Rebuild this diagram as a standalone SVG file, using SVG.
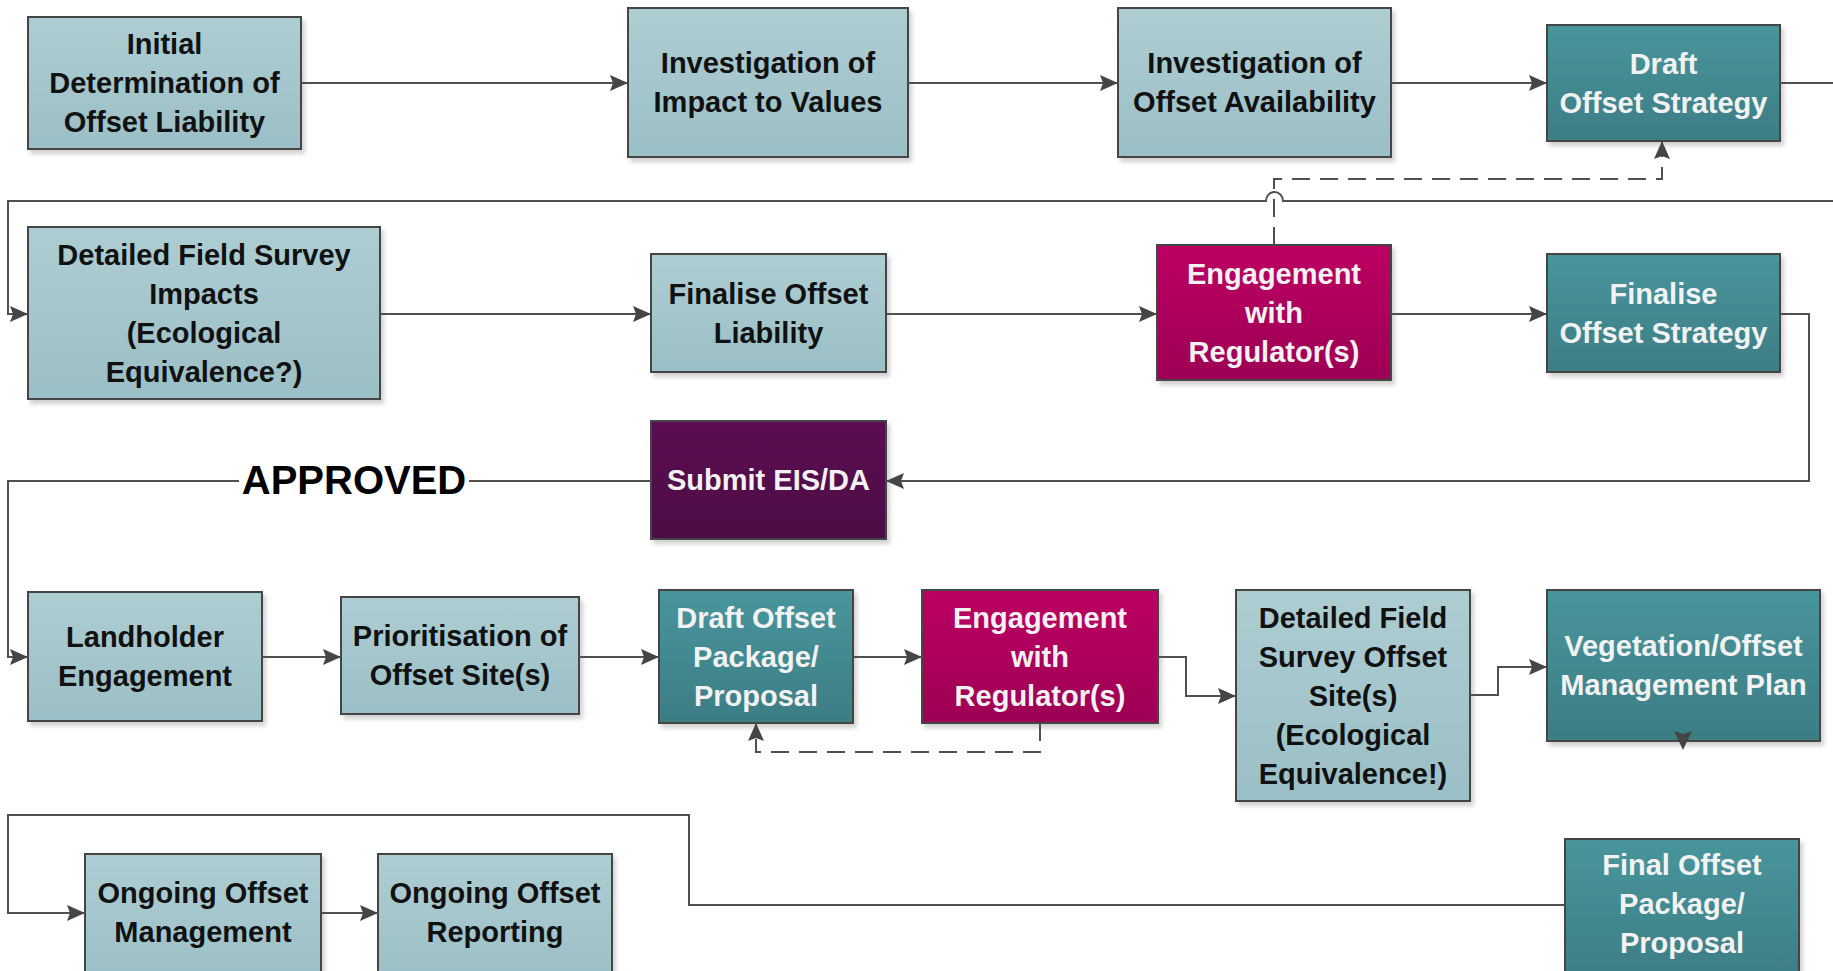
<svg xmlns="http://www.w3.org/2000/svg" width="1833" height="971" viewBox="0 0 1833 971">
<defs>
<linearGradient id="gLight" x1="0" y1="0" x2="0" y2="1"><stop offset="0" stop-color="#adcdd2"/><stop offset="1" stop-color="#9bbfc6"/></linearGradient>
<linearGradient id="gTeal" x1="0" y1="0" x2="0" y2="1"><stop offset="0" stop-color="#48959c"/><stop offset="1" stop-color="#3d7d84"/></linearGradient>
<linearGradient id="gMag" x1="0" y1="0" x2="0" y2="1"><stop offset="0" stop-color="#bc0063"/><stop offset="1" stop-color="#9d0054"/></linearGradient>
<linearGradient id="gPurp" x1="0" y1="0" x2="0" y2="1"><stop offset="0" stop-color="#5b0f53"/><stop offset="1" stop-color="#4c0b45"/></linearGradient>
<filter id="sh" x="-10%" y="-10%" width="125%" height="130%"><feDropShadow dx="3" dy="4" stdDeviation="2" flood-color="#000" flood-opacity="0.18"/></filter>
<marker id="arr" markerUnits="userSpaceOnUse" markerWidth="18" markerHeight="16" refX="18" refY="8" orient="auto"><path d="M0,0 L18,8 L0,16 L3,8 z" fill="#454545"/></marker>
</defs>
<style>
.box{stroke:#444;stroke-width:2;filter:url(#sh)}
.light{fill:url(#gLight)}
.teal{fill:url(#gTeal)}
.mag{fill:url(#gMag)}
.purp{fill:url(#gPurp)}
text{font-family:"Liberation Sans",Arial,sans-serif;font-weight:bold;font-size:29px;text-anchor:middle}
.dk{fill:#111}
.wt{fill:#f2f2f2}
.ln{fill:none;stroke:#505050;stroke-width:2}
.a{marker-end:url(#arr)}
.dash{stroke-dasharray:18 10}
.lbl{font-size:40px;fill:#000}
</style>

<g id="n1"><rect class="box light" x="28" y="17" width="273" height="132"/>
<text class="dk" x="164.5" y="54">Initial</text><text class="dk" x="164.5" y="93">Determination of</text><text class="dk" x="164.5" y="132">Offset Liability</text></g>

<g id="n2"><rect class="box light" x="628" y="8" width="280" height="149"/>
<text class="dk" x="768" y="73">Investigation of</text><text class="dk" x="768" y="112">Impact to Values</text></g>

<g id="n3"><rect class="box light" x="1118" y="8" width="273" height="149"/>
<text class="dk" x="1254.5" y="73">Investigation of</text><text class="dk" x="1254.5" y="112">Offset Availability</text></g>

<g id="n4"><rect class="box teal" x="1547" y="25" width="233" height="116"/>
<text class="wt" x="1663.5" y="74">Draft</text><text class="wt" x="1663.5" y="113">Offset Strategy</text></g>

<g id="n5"><rect class="box light" x="28" y="227" width="352" height="172"/>
<text class="dk" x="204" y="265">Detailed Field Survey</text><text class="dk" x="204" y="304">Impacts</text><text class="dk" x="204" y="343">(Ecological</text><text class="dk" x="204" y="382">Equivalence?)</text></g>

<g id="n6"><rect class="box light" x="651" y="254" width="235" height="118"/>
<text class="dk" x="768.5" y="304">Finalise Offset</text><text class="dk" x="768.5" y="343">Liability</text></g>

<g id="n7"><rect class="box mag" x="1157" y="245" width="234" height="135"/>
<text class="wt" x="1274" y="284">Engagement</text><text class="wt" x="1274" y="323">with</text><text class="wt" x="1274" y="362">Regulator(s)</text></g>

<g id="n8"><rect class="box teal" x="1547" y="254" width="233" height="118"/>
<text class="wt" x="1663.5" y="304">Finalise</text><text class="wt" x="1663.5" y="343">Offset Strategy</text></g>

<g id="n9"><rect class="box purp" x="651" y="421" width="235" height="118"/>
<text class="wt" x="768.5" y="490">Submit EIS/DA</text></g>

<g id="n10"><rect class="box light" x="28" y="592" width="234" height="129"/>
<text class="dk" x="145" y="647">Landholder</text><text class="dk" x="145" y="686">Engagement</text></g>

<g id="n11"><rect class="box light" x="341" y="597" width="238" height="117"/>
<text class="dk" x="460" y="646">Prioritisation of</text><text class="dk" x="460" y="685">Offset Site(s)</text></g>

<g id="n12"><rect class="box teal" x="659" y="590" width="194" height="133"/>
<text class="wt" x="756" y="628">Draft Offset</text><text class="wt" x="756" y="667">Package/</text><text class="wt" x="756" y="706">Proposal</text></g>

<g id="n13"><rect class="box mag" x="922" y="590" width="236" height="133"/>
<text class="wt" x="1040" y="628">Engagement</text><text class="wt" x="1040" y="667">with</text><text class="wt" x="1040" y="706">Regulator(s)</text></g>

<g id="n14"><rect class="box light" x="1236" y="590" width="234" height="211"/>
<text class="dk" x="1353" y="628">Detailed Field</text><text class="dk" x="1353" y="667">Survey Offset</text><text class="dk" x="1353" y="706">Site(s)</text><text class="dk" x="1353" y="745">(Ecological</text><text class="dk" x="1353" y="784">Equivalence!)</text></g>

<g id="n15"><rect class="box teal" x="1547" y="590" width="273" height="151"/>
<text class="wt" x="1683.5" y="656">Vegetation/Offset</text><text class="wt" x="1683.5" y="695">Management Plan</text></g>

<g id="n16"><rect class="box teal" x="1565" y="839" width="234" height="145"/>
<text class="wt" x="1682" y="875">Final Offset</text><text class="wt" x="1682" y="914">Package/</text><text class="wt" x="1682" y="953">Proposal</text></g>

<g id="n17"><rect class="box light" x="85" y="854" width="236" height="130"/>
<text class="dk" x="203" y="903">Ongoing Offset</text><text class="dk" x="203" y="942">Management</text></g>

<g id="n18"><rect class="box light" x="378" y="854" width="234" height="130"/>
<text class="dk" x="495" y="903">Ongoing Offset</text><text class="dk" x="495" y="942">Reporting</text></g>

<g id="connectors">
<path class="ln a" d="M301,83 H628"/>
<path class="ln a" d="M908,83 H1118"/>
<path class="ln a" d="M1391,83 H1547"/>
<path class="ln a" d="M1780,83 H1840 V201 H1283 A8.5,9 0 0 0 1266,201 H8 V314 H28"/>
<path class="ln a" d="M380,314 H651"/>
<path class="ln a" d="M886,314 H1157"/>
<path class="ln a" d="M1391,314 H1547"/>
<path class="ln a" d="M1780,314 H1809 V481 H886"/>
<path class="ln a" d="M651,481 H469 M239,481 H8 V657 H28"/>
<path class="ln a" d="M262,657 H341"/>
<path class="ln a" d="M579,657 H659"/>
<path class="ln a" d="M853,657 H922"/>
<path class="ln a" d="M1158,657 H1186 V696 H1236"/>
<path class="ln a" d="M1470,695 H1498 V667 H1547"/>
<path class="ln a dash" d="M1274,245 V179 H1662 V141"/>
<path class="ln a dash" d="M1040,723 V752 H756 V723"/>
<path d="M1674,731 L1683,734 L1692,731 L1683,750 z" fill="#454545"/>
<path class="ln a" d="M1565,905 H689 V815 H8 V913 H85"/>
<path class="ln a" d="M321,913 H378"/>
<text class="lbl" x="354" y="494">APPROVED</text>
</g>
</svg>
